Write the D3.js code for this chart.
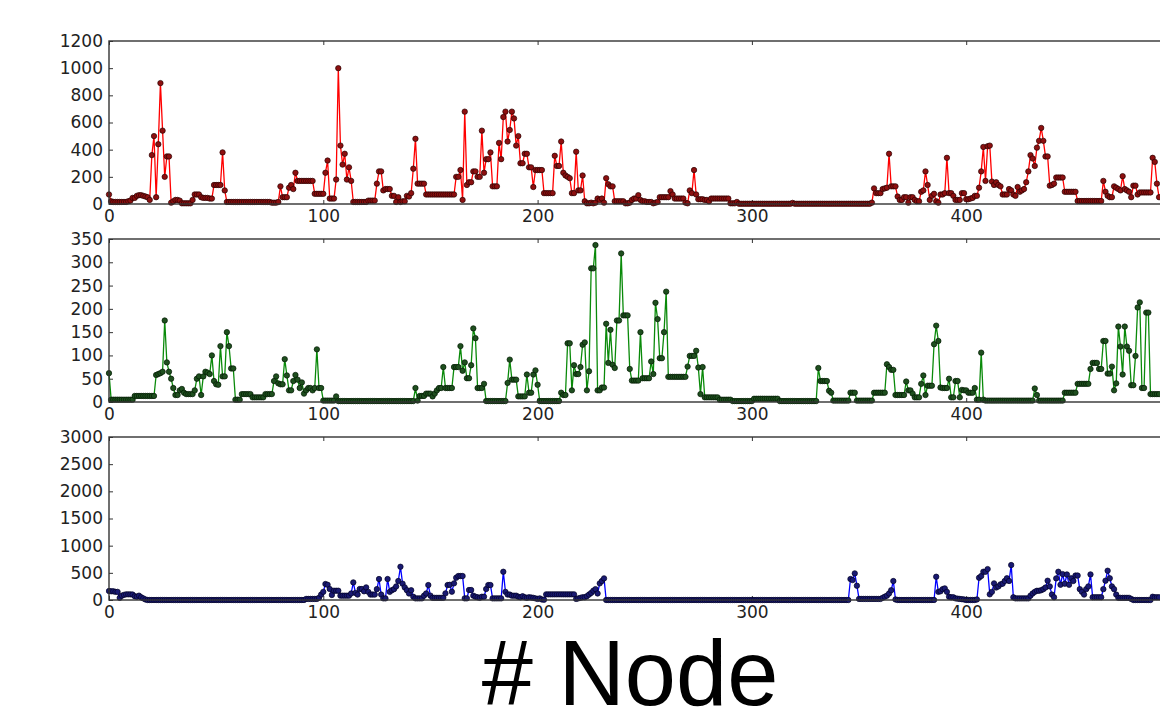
<!DOCTYPE html>
<html>
<head>
<meta charset="utf-8">
<script src="https://cdn.jsdelivr.net/npm/d3@7"></script>
<style>
  body { margin: 0; background: #fff; }
  .tick text { font-family: "DejaVu Sans", sans-serif; font-size: 17px; fill: #222; }
  .tick line { stroke: #333; stroke-width: 1; }
  .frame { fill: none; stroke: #333; stroke-width: 1.4; }
  .xlabel { font-family: "Liberation Sans", Arial, sans-serif; font-size: 92px; fill: #000; }
</style>
</head>
<body>
<div class="graphic"></div>
<script>
// tick values for each axis
var xTicks = [0, 100, 200, 300, 400];
var redTicks = [0, 200, 400, 600, 800, 1000, 1200];
var greenTicks = [0, 50, 100, 150, 200, 250, 300, 350];
var blueTicks = [0, 500, 1000, 1500, 2000, 2500, 3000];

// series, one point per node, stored as [value, repeat] runs
var redRuns = [
  [70,1],[20,1],[15,7],[20,1],[25,1],                                   // 0-10
  [45,2],[60,1],[65,2],[60,1],[55,1],[50,1],[30,1],                     // 11-19
  [360,1],[500,1],[50,1],[440,1],[890,1],[540,1],[200,1],[350,2],[10,1],// 20-29
  [20,1],[30,2],[25,1],[5,5],[30,1],                                    // 30-39
  [70,3],[50,1],[45,3],[40,2],[140,1],                                  // 40-49
  [140,3],[380,1],[100,1],[15,21],[10,3],[15,1],                        // 50-79
  [130,1],[50,3],[120,1],[140,1],[110,1],[230,1],[170,8],[75,5],        // 80-100
  [230,1],[320,1],[40,3],[180,1],[1000,1],[430,1],[290,1],[370,1],[180,1],[270,1],[170,1], // 101-113
  [15,7],[25,4],[150,1],[240,2],[100,1],[110,3],[60,2],                 // 114-133
  [15,1],[50,1],[15,1],[20,2],[60,1],[55,1],[80,1],[260,1],[480,1],     // 134-143
  [150,4],[70,14],[200,2],[250,1],[30,1],[680,1],[140,1],[160,2],       // 144-169
  [240,2],[200,2],[540,1],[230,1],[330,2],[380,1],[130,3],              // 170-181
  [450,1],[330,1],[640,1],[680,1],[460,1],[545,1],[680,1],[630,1],[430,1],[500,1], // 182-191
  [300,2],[370,2],[270,2],[125,1],[250,4],[80,5],                       // 192-207
  [355,1],[280,2],[460,1],[230,1],[210,1],[200,1],[190,1],[80,2],[385,1],[100,2],[210,1],[20,1], // 208-222
  [5,2],[10,1],[5,1],[10,1],[40,1],[30,1],[40,1],[10,1],[190,1],[145,1],[130,2], // 223-235
  [20,5],[5,2],[10,1],[30,1],[40,2],[65,1],[30,1],[20,2],[15,3],[5,1],[10,1],[15,1], // 236-256
  [50,5],[95,1],[70,1],[40,5],[10,1],[5,1],[100,1],[80,1],[250,1],[70,1], // 257-274
  [35,3],[30,2],[20,1],[40,9],[5,3],[15,1],                             // 275-293
  [2,25],[8,1],[2,36],                                                  // 294-355
  [10,1],[115,1],[80,3],[110,1],[115,1],[120,1],[370,1],[130,3],[55,1], // 356-368
  [30,2],[50,2],[10,1],[50,2],[30,1],[20,2],[90,1],[100,1],[240,1],[140,1], // 369-382
  [30,1],[60,1],[75,1],[20,1],[10,1],[70,2],[80,1],[340,1],[80,2],[60,1],[30,3], // 383-397
  [80,2],[35,2],[40,1],[45,1],[60,2],                                   // 398-405
  [120,1],[240,1],[420,1],[170,1],[425,1],[430,1],[165,1],[140,1],[160,1],[140,1],[130,1], // 406-416
  [70,3],[110,1],[100,1],[70,1],[60,1],[125,1],[90,1],[100,1],[110,1],  // 417-427
  [160,1],[240,1],[360,1],[335,1],[280,1],[415,1],[465,1],[560,1],[465,1],[350,2], // 428-438
  [135,1],[140,1],[150,1],[195,4],[90,6],[22,12],                       // 439-463
  [170,1],[90,1],[60,1],[50,2],[130,1],[120,1],[110,1],[100,1],[205,1], // 464-473
  [110,1],[100,1],[90,1],[50,1],[135,2],[70,1],[85,6],                  // 474-486
  [340,1],[310,1],[150,1],[50,1]                                        // 487-490
];

var greenRuns = [
  [62,1],[5,11],[13,10],                                                // 0-21
  [58,1],[60,1],[62,1],[65,1],[175,1],[85,1],[65,1],[50,1],[30,1],      // 22-30
  [15,2],[25,1],[28,1],[20,1],[17,4],[25,1],[50,1],[55,1],[15,1],[55,1],// 31-44
  [65,1],[63,1],[60,1],[100,1],[45,1],[38,1],[37,1],[120,1],[55,2],     // 45-54
  [150,1],[120,1],[72,2],[5,3],[17,5],[10,6],[17,4],                    // 55-76
  [45,1],[55,1],[40,1],[38,2],[92,1],[57,1],[25,2],[45,1],[58,1],[48,1],// 77-88
  [30,1],[42,1],[18,1],[25,1],[30,2],[25,1],[30,1],[113,1],[30,2],      // 89-99
  [3,6],[12,1],[2,36],[30,1],[3,1],[13,3],[18,3],[12,1],[18,1],[25,1],  // 100-153
  [30,2],[75,1],[30,4],[75,3],[120,1],[67,1],[85,1],[51,2],[79,1],      // 154-169
  [158,1],[137,1],[30,3],[39,1],[2,10],[41,1],[91,1],[48,3],[12,4],     // 170-194
  [59,1],[20,2],[59,1],[68,1],[37,1],[2,10],[20,1],[15,2],              // 195-213
  [126,2],[25,1],[79,1],[60,2],[75,1],[123,1],[128,1],[25,1],[66,1],    // 214-224
  [287,2],[337,1],[25,2],[31,2],[168,1],[84,1],[155,1],[80,1],[73,1],   // 225-236
  [175,2],[319,1],[186,3],[71,1],[46,4],[150,1],[51,4],[87,1],[60,1],   // 237-254
  [213,1],[178,1],[94,2],[150,1],[237,1],[54,9],                        // 255-269
  [76,1],[99,3],[110,1],[74,1],[17,1],[75,1],[10,7],[5,6],              // 270-290
  [2,10],[7,12],[2,18],                                                 // 291-330
  [73,1],[45,4],[24,1],[20,1],[3,8],[20,3],[3,8],[20,6],                // 331-362
  [81,1],[75,1],[69,2],[15,5],[44,1],[25,2],[18,1],[10,3],              // 363-378
  [39,1],[57,1],[15,1],[35,3],[124,1],[164,1],[131,1],[31,1],[30,3],    // 379-391
  [50,1],[10,2],[45,2],[10,1],[26,1],[25,2],[20,3],[30,1],[5,2],        // 392-406
  [106,1],[5,1],[3,23],[29,1],[15,1],[3,12],                            // 407-445
  [20,6],[39,6],[71,1],[84,3],[71,2],[131,2],[61,2],                    // 446-467
  [76,1],[25,1],[40,1],[162,1],[119,1],[59,1],[162,1],[119,1],[110,1],  // 468-476
  [36,2],[99,1],[203,1],[214,1],[30,2],[192,2],[17,5]                   // 477-490
];

var blueRuns = [
  [165,1],[160,2],[150,2],[40,1],[80,1],[95,1],[104,3],[100,1],         // 0-11
  [70,1],[60,1],[80,1],[50,1],[30,1],[10,1],[0,74],                     // 12-91
  [20,6],[40,1],[100,1],[150,1],[294,1],[280,1],[202,1],[92,1],         // 92-104
  [171,3],[80,5],[120,1],[324,1],[130,1],[100,1],[202,2],[160,1],       // 105-119
  [232,1],[150,1],[100,3],[200,1],[386,1],[100,1],[30,2],               // 120-129
  [386,1],[150,1],[180,1],[200,1],[250,1],[350,1],[612,1],[300,1],      // 130-137
  [232,1],[180,1],[120,1],[180,1],[60,1],[30,4],[80,1],[120,1],         // 138-148
  [275,1],[80,1],[40,6],[122,1],[275,1],[280,1],[153,1],[306,1],        // 149-161
  [410,1],[441,3],[30,2],[184,2],[80,1],[60,1],[50,1],[40,1],[60,2],    // 162-175
  [202,1],[275,2],[30,5],[520,1],[150,1],[100,2],[80,3],                // 176-190
  [60,1],[50,1],[70,1],[50,1],[40,1],[50,1],[45,1],[40,1],[30,1],       // 191-199
  [20,1],[30,1],[10,1],[5,1],[104,14],                                  // 200-217
  [20,1],[30,1],[40,1],[50,2],[70,1],[100,1],[130,1],[171,1],[200,1],   // 218-227
  [120,1],[306,1],[349,1],[398,1],[0,114],                              // 228-345
  [386,1],[367,1],[490,1],[263,1],[20,11],                              // 346-360
  [40,1],[60,1],[80,1],[120,1],[180,1],[349,1],[10,1],[0,18],           // 361-385
  [428,1],[150,1],[160,1],[200,1],[214,1],[150,1],[60,1],[50,2],        // 386-394
  [30,1],[25,1],[20,1],[15,1],[10,1],[0,5],[10,1],                      // 395-405
  [410,1],[441,1],[520,2],[569,1],[104,1],[150,1],[306,1],[230,1],      // 406-414
  [250,1],[288,1],[300,1],[350,1],[400,1],[350,1],[643,1],[50,1],[30,7],// 415-429
  [80,1],[120,1],[150,1],[170,2],[180,1],[200,1],[230,1],[355,1],       // 430-438
  [250,1],[100,1],[50,1],[398,1],[520,1],[280,1],[477,1],[300,1],       // 439-446
  [470,1],[280,1],[400,1],[350,1],[450,2],[200,1],[150,1],[100,1],      // 447-455
  [200,1],[250,1],[471,1],[50,5],[200,1],[355,1],[539,1],[400,1],       // 456-467
  [250,1],[200,1],[100,1],[40,6],[20,1],[0,9],[60,1],[50,3]             // 468-490
];

(function () {
  "use strict";

  var width = 1160, height = 720;
  var left = 109, pxPerNode = 2.143, panelHeight = 163;

  function expand(runs) {
    var out = [];
    runs.forEach(function (r) {
      for (var i = 0; i < r[1]; i++) { out.push(r[0]); }
    });
    return out;
  }

  var svg = d3.select('.graphic').append('svg')
      .attr('width', width)
      .attr('height', height);

  // the plot runs past the right edge of the picture
  var x = d3.scaleLinear().domain([0, 500]).range([left, left + 500 * pxPerNode]);
  var fmt = d3.format('d');

  var panels = [
    { top: 41,  ticks: redTicks,   runs: redRuns,   line: '#ff0000', fill: '#8c1010', edge: '#2a0000' },
    { top: 239, ticks: greenTicks, runs: greenRuns, line: '#0a8a0a', fill: '#1f4f1f', edge: '#001800' },
    { top: 437, ticks: blueTicks,  runs: blueRuns,  line: '#0000ff', fill: '#1a1a72', edge: '#000022' }
  ];

  panels.forEach(function (p) {
    var values = expand(p.runs);
    var bottom = p.top + panelHeight;
    var y = d3.scaleLinear()
        .domain([0, p.ticks[p.ticks.length - 1]])
        .range([bottom, p.top]);

    var g = svg.append('g');

    // inward ticks on every side, labels left and bottom
    g.append('g')
        .attr('transform', 'translate(' + left + ',0)')
        .call(d3.axisLeft(y).tickValues(p.ticks).tickFormat(fmt).tickSize(-4).tickSizeOuter(0).tickPadding(6))
        .attr('font-size', null).attr('font-family', null)
        .call(function (a) { a.select('.domain').remove(); });

    g.append('g')
        .attr('transform', 'translate(0,' + bottom + ')')
        .call(d3.axisBottom(x).tickValues(xTicks).tickFormat(fmt).tickSize(-4).tickSizeOuter(0).tickPadding(6))
        .attr('font-size', null).attr('font-family', null)
        .call(function (a) { a.select('.domain').remove(); });

    g.append('g')
        .attr('transform', 'translate(0,' + p.top + ')')
        .call(d3.axisTop(x).tickValues(xTicks).tickSize(-4).tickSizeOuter(0).tickFormat(''))
        .call(function (a) { a.select('.domain').remove(); });

    var line = d3.line()
        .x(function (d, i) { return x(i); })
        .y(function (d) { return y(d); });

    g.append('path')
        .datum(values)
        .attr('fill', 'none')
        .attr('stroke', p.line)
        .attr('stroke-width', 1.3)
        .attr('stroke-linejoin', 'round')
        .attr('d', line);

    g.selectAll('circle')
        .data(values)
      .enter().append('circle')
        .attr('cx', function (d, i) { return x(i); })
        .attr('cy', function (d) { return y(d); })
        .attr('r', 2.7)
        .attr('fill', p.fill)
        .attr('stroke', p.edge)
        .attr('stroke-width', 0.7);

    g.append('rect')
        .attr('class', 'frame')
        .attr('x', left)
        .attr('y', p.top)
        .attr('width', x(500) - left)
        .attr('height', panelHeight);
  });

  svg.append('text')
      .attr('class', 'xlabel')
      .attr('x', 630)
      .attr('y', 705)
      .attr('text-anchor', 'middle')
      .text('# Node');
}());
</script>
</body>
</html>
